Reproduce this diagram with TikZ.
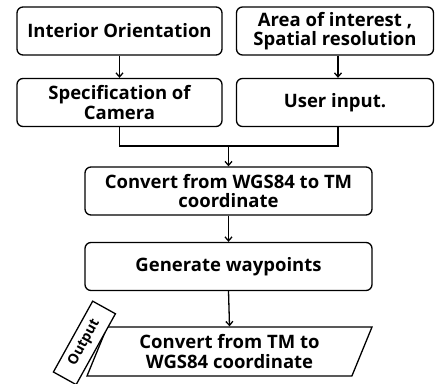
\documentclass[tikz,border=0pt]{standalone}
\usepackage{fontspec}
\setmainfont{Open Sans}
\usetikzlibrary{arrows.meta,shapes.geometric}

\tikzset{
  procbox/.style = {draw, rounded corners = 6, line width = 1.3, align = center,
                    minimum height = 48, inner sep = 2,
                    font = \fontsize{18.5}{19.5}\selectfont\bfseries},
  flow/.style = {line width = 1.3, -{Straight Barb[length = 4, width = 7]}}
}

\begin{document}
\begin{tikzpicture}[x = 1pt, y = 1pt]
\useasboundingbox (0, 0) rectangle (435, 383);
\node[procbox, minimum width = 205] (orient) at (119.5, 352) {Interior Orientation};
\node[procbox, minimum width = 197] (area) at (335, 352) {Area of interest ,\\Spatial resolution};
\node[procbox, minimum width = 205] (camera) at (119.5, 280.5) {Specification of\\Camera};
\node[procbox, minimum width = 197] (user) at (335, 280.5) {User input.};
\node[procbox, minimum width = 287] (wgs2tm) at (228.5, 192) {Convert from WGS84 to TM\\coordinate};
\node[procbox, minimum width = 287] (waypts) at (228.5, 116.5) {Generate waypoints};
\node[procbox, rounded corners = 0, trapezium, trapezium left angle = 62,
      trapezium right angle = 118, trapezium stretches body,
      minimum width = 285, minimum height = 49] (tm2wgs) at (229.5, 31.5) {Convert from TM to\\WGS84 coordinate};
\node[draw, fill = white, line width = 1.3, rotate = 61, anchor = south,
      minimum width = 81, minimum height = 26, inner sep = 0,
      font = \fontsize{14}{15}\selectfont\bfseries] (out) at ([yshift = 2]tm2wgs.west) {Output};

\coordinate (join) at (228.5, 237);
\draw[flow] (orient.south -| camera.south) -- (camera.north);
\draw[flow] ([xshift = 3]area.south) -- ([xshift = 3]user.north);
\draw[line width = 1.3] (camera.south) -- (camera.south |- join) -- ([xshift = 3]user.south |- join) -- ([xshift = 3]user.south);
\draw[flow] (join) -- (wgs2tm.north);
\draw[flow] (wgs2tm.south) -- (waypts.north);
\draw[flow] (waypts.south) -- (tm2wgs.north);
\end{tikzpicture}
\end{document}
